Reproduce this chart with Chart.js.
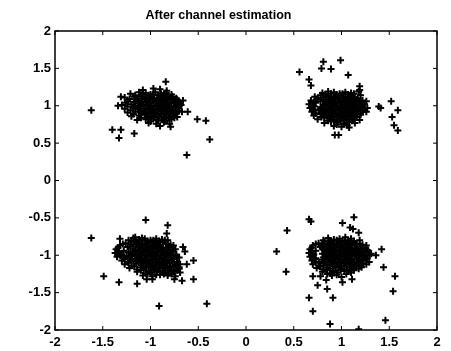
<!DOCTYPE html>
<html>
<head>
    <title>After channel estimation</title>
    <script src="https://cdn.jsdelivr.net/npm/chart.js"></script>
    <style>
        body { margin: 0; background: #fff; }
    </style>
</head>
<body>
    <canvas id="scatterChart" width="451" height="351"></canvas>

    <script>
        var chartTitle = "After channel estimation";
        var xTicks = [-2, -1.5, -1, -0.5, 0, 0.5, 1, 1.5, 2];
        var yTicks = [-2, -1.5, -1, -0.5, 0, 0.5, 1, 1.5, 2];

        // received symbols, one cluster per quadrant
        var clusterTopLeft = [
            [-1.08,1.21],[-0.97,1.23],[-0.90,1.22],[-0.83,1.20],
            [-1.21,1.16],[-1.12,1.18],[-1.05,1.17],[-1.00,1.15],[-0.95,1.18],[-0.89,1.16],[-0.84,1.17],[-0.78,1.15],
            [-1.27,1.11],[-1.17,1.12],[-1.10,1.13],[-1.04,1.11],[-0.99,1.12],[-0.93,1.10],[-0.88,1.13],[-0.83,1.11],[-0.77,1.12],[-0.73,1.10],
            [-1.24,1.06],[-1.15,1.08],[-1.09,1.06],[-1.03,1.07],[-0.98,1.08],[-0.94,1.05],[-0.89,1.07],[-0.85,1.06],[-0.80,1.08],[-0.75,1.06],[-0.70,1.05],
            [-1.30,1.01],[-1.20,1.02],[-1.13,1.03],[-1.07,1.01],[-1.02,1.02],[-0.97,1.00],[-0.92,1.03],[-0.87,1.01],[-0.83,1.02],[-0.78,1.00],[-0.73,1.02],[-0.68,1.01],
            [-1.27,0.96],[-1.18,0.97],[-1.12,0.98],[-1.06,0.96],[-1.01,0.97],[-0.96,0.95],[-0.91,0.98],[-0.86,0.96],[-0.81,0.97],[-0.76,0.95],[-0.71,0.97],
            [-1.24,0.91],[-1.16,0.92],[-1.09,0.93],[-1.04,0.91],[-0.99,0.92],[-0.94,0.90],[-0.89,0.93],[-0.84,0.91],[-0.79,0.92],[-0.74,0.90],[-0.70,0.93],
            [-1.20,0.86],[-1.12,0.87],[-1.06,0.88],[-1.01,0.86],[-0.96,0.87],[-0.91,0.85],[-0.86,0.88],[-0.81,0.86],[-0.76,0.87],[-0.72,0.85],
            [-1.14,0.81],[-1.05,0.82],[-0.99,0.83],[-0.93,0.81],[-0.88,0.82],[-0.83,0.80],[-0.78,0.82],
            [-1.02,0.77],[-0.94,0.76],[-0.86,0.78],[-0.80,0.76],
            [-1.16,1.14],[-1.08,1.15],[-1.02,1.14],[-0.97,1.15],[-0.92,1.14],[-0.86,1.15],[-0.81,1.14],
            [-1.22,1.09],[-1.13,1.10],[-1.06,1.09],[-1.01,1.10],[-0.96,1.09],[-0.91,1.10],[-0.86,1.09],[-0.82,1.10],[-0.77,1.09],[-0.72,1.08],
            [-1.26,1.04],[-1.17,1.05],[-1.11,1.04],[-1.05,1.05],[-1.00,1.04],[-0.95,1.05],[-0.90,1.04],[-0.85,1.05],[-0.80,1.04],[-0.75,1.04],[-0.70,1.03],
            [-1.24,0.99],[-1.16,1.00],[-1.10,0.99],[-1.04,1.00],[-0.99,0.99],[-0.94,1.00],[-0.89,0.99],[-0.84,1.00],[-0.79,0.99],[-0.74,0.99],[-0.70,0.99],
            [-1.21,0.94],[-1.13,0.95],[-1.07,0.94],[-1.02,0.95],[-0.97,0.94],[-0.92,0.95],[-0.87,0.94],[-0.82,0.95],[-0.77,0.94],[-0.72,0.94],
            [-1.18,0.89],[-1.10,0.90],[-1.04,0.89],[-0.99,0.90],[-0.94,0.89],[-0.89,0.90],[-0.84,0.89],[-0.79,0.90],[-0.74,0.89],
            [-1.10,0.84],[-1.03,0.85],[-0.97,0.84],[-0.91,0.85],[-0.85,0.84],[-0.80,0.85],[-0.75,0.84],
            [-1.00,0.79],[-0.92,0.80],[-0.85,0.79],
            [-0.84,1.32],[-1.62,0.94],[-1.31,1.12],[-0.66,1.07],[-0.61,0.92],[-0.67,0.92],[-0.51,0.82],[-0.42,0.80],
            [-0.38,0.55],[-0.62,0.34],[-1.40,0.68],[-1.31,0.68],[-1.33,0.57],[-1.17,0.63],[-0.79,0.72],[-0.90,0.73],[-1.34,1.00]
        ];
        var clusterTopRight = [
            [0.80,1.17],[0.86,1.19],[0.92,1.18],[0.98,1.16],[1.04,1.18],[1.10,1.17],[1.18,1.19],
            [0.72,1.12],[0.78,1.14],[0.84,1.13],[0.89,1.11],[0.94,1.13],[0.99,1.14],[1.04,1.12],[1.09,1.13],[1.14,1.11],[1.20,1.14],
            [0.68,1.07],[0.75,1.09],[0.81,1.08],[0.86,1.06],[0.91,1.08],[0.96,1.09],[1.01,1.07],[1.06,1.08],[1.11,1.06],[1.16,1.08],[1.22,1.07],
            [0.66,1.02],[0.73,1.04],[0.83,1.03],[0.88,1.01],[0.93,1.03],[0.98,1.04],[1.03,1.02],[1.08,1.03],[1.13,1.01],[1.18,1.03],[1.24,1.02],
            [0.67,0.97],[0.72,0.99],[0.79,0.98],[0.85,0.96],[0.90,0.98],[0.95,0.99],[1.00,0.97],[1.05,0.98],[1.10,0.96],[1.15,0.98],[1.20,0.99],[1.27,0.97],
            [0.69,0.92],[0.76,0.94],[0.82,0.93],[0.87,0.91],[0.92,0.93],[0.97,0.94],[1.02,0.92],[1.07,0.93],[1.12,0.91],[1.17,0.93],[1.22,0.94],
            [0.71,0.87],[0.78,0.89],[0.84,0.88],[0.89,0.86],[0.94,0.88],[0.99,0.89],[1.04,0.87],[1.09,0.88],[1.14,0.86],[1.20,0.88],
            [0.75,0.82],[0.82,0.84],[0.88,0.83],[0.93,0.81],[0.98,0.83],[1.03,0.84],[1.08,0.82],[1.13,0.83],[1.19,0.81],
            [0.82,0.77],[0.89,0.79],[0.96,0.78],[1.02,0.76],[1.08,0.78],[1.14,0.77],
            [0.92,0.73],[1.00,0.72],[1.06,0.74],
            [0.83,1.15],[0.89,1.16],[0.95,1.15],[1.01,1.16],[1.07,1.15],[1.13,1.16],
            [0.75,1.10],[0.81,1.11],[0.87,1.10],[0.92,1.11],[0.97,1.10],[1.02,1.11],[1.07,1.10],[1.12,1.11],[1.17,1.10],
            [0.71,1.05],[0.78,1.06],[0.84,1.05],[0.89,1.06],[0.94,1.05],[0.99,1.06],[1.04,1.05],[1.09,1.06],[1.14,1.05],[1.20,1.05],
            [0.70,1.00],[0.81,1.01],[0.86,1.00],[0.91,1.01],[0.96,1.00],[1.01,1.01],[1.06,1.00],[1.11,1.01],[1.16,1.00],[1.22,1.00],
            [0.71,0.95],[0.78,0.96],[0.83,0.95],[0.88,0.96],[0.93,0.95],[0.98,0.96],[1.03,0.95],[1.08,0.96],[1.13,0.95],[1.18,0.96],[1.24,0.95],
            [0.73,0.90],[0.80,0.91],[0.85,0.90],[0.90,0.91],[0.95,0.90],[1.00,0.91],[1.05,0.90],[1.10,0.91],[1.15,0.90],[1.20,0.90],
            [0.79,0.85],[0.85,0.86],[0.91,0.85],[0.96,0.86],[1.01,0.85],[1.06,0.86],[1.11,0.85],[1.16,0.85],
            [0.86,0.80],[0.92,0.81],[0.99,0.80],[1.05,0.81],[1.11,0.80],
            [0.95,0.75],[1.03,0.76],
            [0.56,1.45],[0.81,1.59],[0.79,1.50],[0.89,1.49],[0.99,1.61],[1.07,1.41],[0.66,1.35],[0.68,1.27],
            [1.19,1.26],[1.19,1.21],[1.39,0.99],[1.41,0.97],[1.52,1.06],[1.59,0.94],[1.53,0.85],[1.55,0.74],
            [1.59,0.67],[0.93,0.61],[0.97,0.61],[1.08,0.71],[1.26,0.92],[1.26,1.06]
        ];
        var clusterBottomLeft = [
            [-1.18,-0.77],[-1.12,-0.79],[-1.06,-0.78],[-1.00,-0.80],[-0.94,-0.78],[-0.88,-0.79],
            [-1.26,-0.84],[-1.20,-0.82],[-1.14,-0.83],[-1.08,-0.85],[-1.03,-0.83],[-0.98,-0.82],[-0.93,-0.84],[-0.87,-0.83],[-0.82,-0.85],
            [-1.32,-0.87],[-1.24,-0.89],[-1.18,-0.88],[-1.12,-0.86],[-1.07,-0.88],[-1.02,-0.89],[-0.97,-0.87],[-0.92,-0.88],[-0.87,-0.90],[-0.81,-0.88],[-0.76,-0.87],
            [-1.36,-0.92],[-1.28,-0.94],[-1.16,-0.93],[-1.10,-0.91],[-1.05,-0.93],[-1.00,-0.94],[-0.95,-0.92],[-0.90,-0.93],[-0.85,-0.95],[-0.80,-0.93],[-0.74,-0.92],
            [-1.37,-0.97],[-1.30,-0.99],[-1.20,-0.98],[-1.14,-0.96],[-1.09,-0.98],[-1.04,-0.99],[-0.99,-0.97],[-0.94,-0.98],[-0.89,-1.00],[-0.84,-0.98],[-0.79,-0.97],[-0.73,-0.99],
            [-1.35,-1.02],[-1.28,-1.04],[-1.22,-1.03],[-1.16,-1.01],[-1.11,-1.03],[-1.06,-1.04],[-1.01,-1.02],[-0.96,-1.03],[-0.91,-1.05],[-0.86,-1.03],[-0.81,-1.02],[-0.76,-1.04],[-0.70,-1.03],
            [-1.30,-1.07],[-1.24,-1.09],[-1.18,-1.08],[-1.13,-1.06],[-1.08,-1.08],[-1.03,-1.09],[-0.98,-1.07],[-0.93,-1.08],[-0.88,-1.10],[-0.83,-1.08],[-0.78,-1.07],[-0.72,-1.09],
            [-1.27,-1.12],[-1.20,-1.14],[-1.10,-1.13],[-1.05,-1.11],[-1.00,-1.13],[-0.95,-1.14],[-0.90,-1.12],[-0.85,-1.13],[-0.80,-1.15],[-0.74,-1.13],[-0.69,-1.12],
            [-1.22,-1.17],[-1.14,-1.19],[-1.07,-1.18],[-1.02,-1.16],[-0.97,-1.18],[-0.92,-1.19],[-0.87,-1.17],[-0.82,-1.18],[-0.76,-1.20],[-0.70,-1.18],
            [-1.14,-1.22],[-1.05,-1.24],[-0.99,-1.23],[-0.93,-1.21],[-0.87,-1.23],[-0.81,-1.24],[-0.75,-1.22],[-0.69,-1.23],
            [-1.08,-1.27],[-0.98,-1.28],[-0.90,-1.26],[-0.82,-1.27],[-0.74,-1.28],
            [-1.23,-0.80],[-1.17,-0.81],[-1.09,-0.80],[-1.03,-0.81],[-0.97,-0.80],[-0.91,-0.81],[-0.85,-0.80],
            [-1.29,-0.85],[-1.21,-0.86],[-1.15,-0.85],[-1.10,-0.86],[-1.05,-0.85],[-1.00,-0.86],[-0.95,-0.85],[-0.90,-0.86],[-0.84,-0.85],[-0.79,-0.86],
            [-1.34,-0.90],[-1.21,-0.91],[-1.13,-0.90],[-1.08,-0.91],[-1.03,-0.90],[-0.98,-0.91],[-0.93,-0.90],[-0.88,-0.91],[-0.83,-0.90],[-0.77,-0.90],
            [-1.33,-0.95],[-1.23,-0.96],[-1.17,-0.95],[-1.12,-0.96],[-1.07,-0.95],[-1.02,-0.96],[-0.97,-0.95],[-0.92,-0.96],[-0.87,-0.95],[-0.82,-0.96],[-0.76,-0.95],
            [-1.32,-1.00],[-1.25,-1.01],[-1.19,-1.00],[-1.14,-1.01],[-1.09,-1.00],[-1.04,-1.01],[-0.99,-1.00],[-0.94,-1.01],[-0.89,-1.00],[-0.84,-1.01],[-0.78,-1.00],[-0.73,-1.01],
            [-1.27,-1.05],[-1.21,-1.06],[-1.16,-1.05],[-1.11,-1.06],[-1.06,-1.05],[-1.01,-1.06],[-0.96,-1.05],[-0.91,-1.06],[-0.86,-1.05],[-0.81,-1.06],[-0.75,-1.05],
            [-1.23,-1.10],[-1.15,-1.11],[-1.08,-1.10],[-1.03,-1.11],[-0.98,-1.10],[-0.93,-1.11],[-0.88,-1.10],[-0.83,-1.11],[-0.77,-1.10],[-0.72,-1.11],
            [-1.17,-1.15],[-1.10,-1.16],[-1.05,-1.15],[-1.00,-1.16],[-0.95,-1.15],[-0.90,-1.16],[-0.85,-1.15],[-0.79,-1.16],[-0.73,-1.15],
            [-1.10,-1.20],[-1.02,-1.21],[-0.96,-1.20],[-0.90,-1.21],[-0.84,-1.20],[-0.78,-1.21],[-0.72,-1.20],
            [-1.03,-1.25],[-0.94,-1.26],[-0.86,-1.25],[-0.78,-1.25],
            [-1.05,-0.53],[-0.82,-0.60],[-0.83,-0.71],[-0.82,-0.80],[-1.62,-0.77],[-1.32,-0.78],[-1.49,-1.28],[-1.33,-1.36],
            [-1.14,-1.38],[-1.04,-1.32],[-0.98,-1.32],[-0.75,-1.32],[-0.67,-1.34],[-0.55,-1.32],[-0.91,-1.68],[-0.41,-1.65],
            [-0.55,-1.07],[-0.62,-1.12],[-0.70,-1.16],[-0.66,-0.89],[-0.64,-0.95],[-1.16,-0.76],[-1.09,-0.77]
        ];
        var clusterBottomRight = [
            [0.86,-0.77],[0.92,-0.79],[0.98,-0.78],[1.04,-0.76],[1.10,-0.78],
            [0.76,-0.84],[0.82,-0.82],[0.88,-0.83],[0.93,-0.85],[0.98,-0.83],[1.03,-0.82],[1.08,-0.84],[1.13,-0.83],[1.19,-0.85],
            [0.70,-0.87],[0.78,-0.89],[0.84,-0.88],[0.89,-0.86],[0.94,-0.88],[0.99,-0.89],[1.04,-0.87],[1.09,-0.88],[1.14,-0.90],[1.20,-0.88],[1.26,-0.87],
            [0.67,-0.92],[0.73,-0.94],[0.82,-0.93],[0.87,-0.91],[0.92,-0.93],[0.97,-0.94],[1.02,-0.92],[1.07,-0.93],[1.12,-0.95],[1.17,-0.93],[1.22,-0.92],[1.28,-0.94],
            [0.66,-0.97],[0.71,-0.99],[0.80,-0.98],[0.85,-0.96],[0.90,-0.98],[0.95,-0.99],[1.00,-0.97],[1.05,-0.98],[1.10,-1.00],[1.15,-0.98],[1.20,-0.97],[1.25,-0.99],[1.31,-0.98],
            [0.67,-1.02],[0.73,-1.04],[0.81,-1.03],[0.86,-1.01],[0.91,-1.03],[0.96,-1.04],[1.01,-1.02],[1.06,-1.03],[1.11,-1.05],[1.16,-1.03],[1.21,-1.02],[1.27,-1.04],
            [0.69,-1.07],[0.76,-1.09],[0.83,-1.08],[0.88,-1.06],[0.93,-1.08],[0.98,-1.09],[1.03,-1.07],[1.08,-1.08],[1.13,-1.10],[1.18,-1.08],[1.23,-1.07],[1.29,-1.09],
            [0.70,-1.12],[0.78,-1.14],[0.85,-1.13],[0.90,-1.11],[0.95,-1.13],[1.00,-1.14],[1.05,-1.12],[1.10,-1.13],[1.15,-1.15],[1.20,-1.13],[1.26,-1.12],
            [0.74,-1.17],[0.81,-1.19],[0.88,-1.18],[0.94,-1.16],[1.00,-1.18],[1.06,-1.19],[1.12,-1.17],[1.18,-1.18],
            [0.80,-1.22],[0.88,-1.24],[0.96,-1.23],[1.03,-1.21],[1.10,-1.23],
            [0.78,-1.28],[0.90,-1.27],[1.00,-1.29],
            [0.81,-0.80],[0.89,-0.81],[0.95,-0.80],[1.01,-0.81],[1.07,-0.80],[1.13,-0.81],
            [0.73,-0.85],[0.80,-0.86],[0.86,-0.85],[0.91,-0.86],[0.96,-0.85],[1.01,-0.86],[1.06,-0.85],[1.11,-0.86],[1.16,-0.85],[1.22,-0.86],
            [0.69,-0.90],[0.80,-0.91],[0.85,-0.90],[0.90,-0.91],[0.95,-0.90],[1.00,-0.91],[1.05,-0.90],[1.10,-0.91],[1.15,-0.90],[1.20,-0.91],[1.25,-0.90],
            [0.69,-0.95],[0.83,-0.96],[0.88,-0.95],[0.93,-0.96],[0.98,-0.95],[1.03,-0.96],[1.08,-0.95],[1.13,-0.96],[1.18,-0.95],[1.23,-0.96],[1.28,-0.95],
            [0.70,-1.00],[0.84,-1.01],[0.89,-1.00],[0.94,-1.01],[0.99,-1.00],[1.04,-1.01],[1.09,-1.00],[1.14,-1.01],[1.19,-1.00],[1.24,-1.01],[1.29,-1.00],
            [0.72,-1.05],[0.80,-1.06],[0.86,-1.05],[0.91,-1.06],[0.96,-1.05],[1.01,-1.06],[1.06,-1.05],[1.11,-1.06],[1.16,-1.05],[1.21,-1.06],[1.26,-1.05],
            [0.73,-1.10],[0.81,-1.11],[0.88,-1.10],[0.93,-1.11],[0.98,-1.10],[1.03,-1.11],[1.08,-1.10],[1.13,-1.11],[1.18,-1.10],[1.23,-1.11],
            [0.77,-1.15],[0.85,-1.16],[0.91,-1.15],[0.97,-1.16],[1.03,-1.15],[1.09,-1.16],[1.15,-1.15],[1.21,-1.16],
            [0.84,-1.20],[0.92,-1.21],[0.99,-1.20],[1.06,-1.21],[1.13,-1.20],
            [0.85,-1.25],[0.95,-1.26],[1.05,-1.25],
            [0.66,-0.52],[0.68,-0.55],[0.43,-0.67],[0.32,-0.95],[0.42,-1.22],[1.01,-0.57],[1.13,-0.49],[1.09,-0.63],
            [1.12,-0.65],[1.18,-0.70],[1.19,-0.80],[1.42,-0.92],[1.27,-0.93],[1.36,-1.00],[1.44,-1.16],[1.56,-1.28],
            [1.54,-1.48],[0.70,-1.28],[0.84,-1.33],[0.75,-1.40],[0.85,-1.45],[1.01,-1.36],[1.11,-1.32],[0.66,-1.57],
            [0.91,-1.57],[0.70,-1.75],[0.88,-1.92],[1.18,-1.99],[1.46,-1.87]
        ];

        var allPoints = clusterTopLeft.concat(clusterTopRight, clusterBottomLeft, clusterBottomRight)
            .map(function (p) { return { x: p[0], y: p[1] }; });

        // matlab style box with inward ticks on all four sides
        var boxPlugin = {
            id: 'matlabBox',
            afterDraw: function (chart) {
                var ctx = chart.ctx;
                var a = chart.chartArea;
                var xs = chart.scales.x, ys = chart.scales.y;
                var len = 4;
                ctx.save();
                ctx.strokeStyle = '#000';
                ctx.lineWidth = 1.5;
                ctx.strokeRect(a.left, a.top, a.right - a.left, a.bottom - a.top);
                ctx.lineWidth = 1;
                ctx.beginPath();
                xTicks.forEach(function (v) {
                    var px = xs.getPixelForValue(v);
                    ctx.moveTo(px, a.bottom); ctx.lineTo(px, a.bottom - len);
                    ctx.moveTo(px, a.top); ctx.lineTo(px, a.top + len);
                });
                yTicks.forEach(function (v) {
                    var py = ys.getPixelForValue(v);
                    ctx.moveTo(a.left, py); ctx.lineTo(a.left + len, py);
                    ctx.moveTo(a.right, py); ctx.lineTo(a.right - len, py);
                });
                ctx.stroke();
                ctx.restore();
            }
        };

        var tickFont = { family: "'Liberation Sans', Arial, sans-serif", size: 13, weight: 'bold' };

        new Chart("scatterChart", {
            type: "scatter",
            data: {
                datasets: [{
                    label: 'symbols',
                    data: allPoints,
                    pointStyle: 'cross',
                    pointRadius: 3.5,
                    pointHoverRadius: 3.5,
                    borderColor: '#000',
                    backgroundColor: '#000',
                    borderWidth: 2
                }]
            },
            options: {
                responsive: false,
                animation: false,
                layout: { padding: { top: 0, right: 14, bottom: 0, left: 0 } },
                plugins: {
                    legend: { display: false },
                    tooltip: { enabled: false },
                    title: {
                        display: true,
                        text: chartTitle,
                        color: '#000',
                        font: { family: "'Liberation Sans', Arial, sans-serif", size: 12.5, weight: 'bold' },
                        padding: { top: 8, bottom: 8 }
                    }
                },
                scales: {
                    x: {
                        type: 'linear',
                        min: -2, max: 2,
                        afterFit: function (s) { s.height = 21; },
                        afterBuildTicks: function (s) { s.ticks = xTicks.map(function (v) { return { value: v }; }); },
                        grid: { display: false, drawTicks: false },
                        border: { display: false },
                        ticks: { color: '#000', font: tickFont, padding: 5, maxRotation: 0,
                            callback: function (v) { return String(v); } }
                    },
                    y: {
                        type: 'linear',
                        min: -2, max: 2,
                        afterFit: function (s) { s.width = 55; },
                        afterBuildTicks: function (s) { s.ticks = yTicks.map(function (v) { return { value: v }; }); },
                        grid: { display: false, drawTicks: false },
                        border: { display: false },
                        ticks: { color: '#000', font: tickFont, padding: 4,
                            callback: function (v) { return String(v); } }
                    }
                }
            },
            plugins: [boxPlugin]
        });
    </script>
</body>
</html>
